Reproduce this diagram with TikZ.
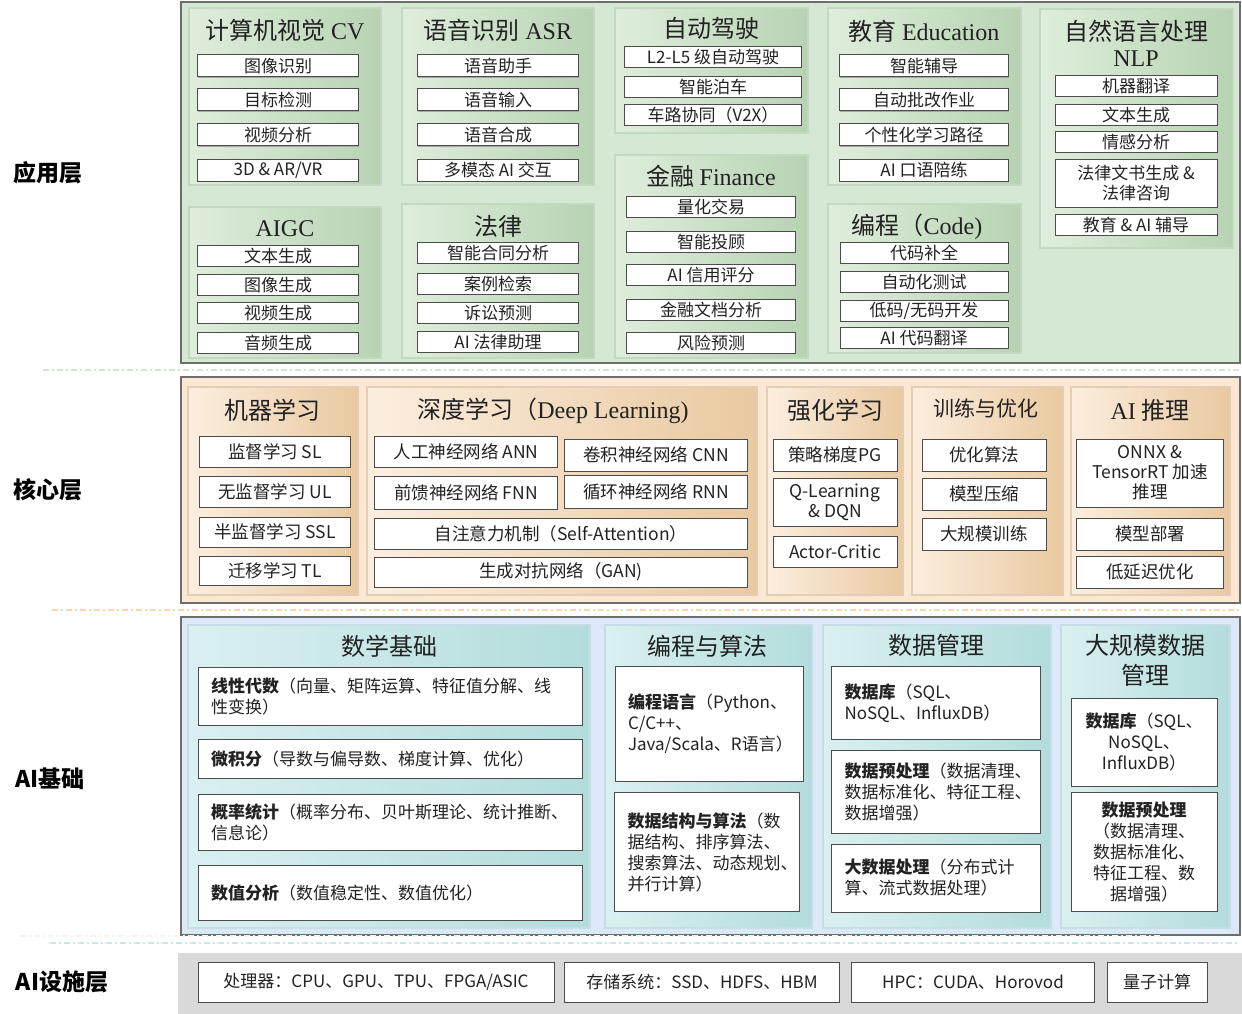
\documentclass[tikz,border=0pt]{standalone}
\usepackage{fontspec}
\setmainfont{Noto Sans CJK SC}
\newfontfamily\ser{Liberation Serif}
\usepackage{xcolor}
\usetikzlibrary{positioning,shadows}

\definecolor{appbg}{HTML}{D5E8D4}
\definecolor{grnL}{HTML}{DFEEDC}
\definecolor{grnR}{HTML}{B7D2B3}
\definecolor{grnln}{HTML}{C3D8C0}
\definecolor{corebg}{HTML}{FCE7D3}
\definecolor{orgL}{HTML}{FCEEDF}
\definecolor{orgR}{HTML}{E9C9A0}
\definecolor{orgln}{HTML}{E3CDB5}
\definecolor{orgsep}{HTML}{F7D6B4}
\definecolor{basebg}{HTML}{DCE9F8}
\definecolor{bluL}{HTML}{DAF0F0}
\definecolor{bluR}{HTML}{B3DCDC}
\definecolor{bluln}{HTML}{C5DEE6}
\definecolor{infbg}{HTML}{D9D9D9}
\definecolor{edge}{HTML}{6E6E6E}
\definecolor{txt}{HTML}{222222}

\tikzset{
  layerbox/.style={draw=edge, line width=1.5pt},
  grnpanel/.style={draw=grnln, line width=1.5pt, left color=grnL, right color=grnR},
  orgpanel/.style={draw=orgln, line width=1.5pt, left color=orgL, right color=orgR},
  blupanel/.style={draw=bluln, line width=1.5pt, left color=bluL, right color=bluR},
  sepline/.style={line width=1.5pt, dash pattern=on 6pt off 3pt on 2pt off 3pt},
  layerlbl/.style={font=\fontsize{23}{26}\selectfont\bfseries, text=black},
  ttl/.style={font=\fontsize{24}{28}\selectfont, text=txt},
  item/.style={draw=black!70, fill=white, line width=1pt, inner sep=0pt, text=txt,
    font=\fontsize{17}{20}\selectfont, align=center,
    drop shadow={shadow xshift=0.8pt, shadow yshift=-0.8pt, fill=black!35, opacity=1}},
  coreitem/.style={item, font=\fontsize{17.5}{20}\selectfont},
  baseitem/.style={item, font=\fontsize{17}{21}\selectfont, inner xsep=13pt, align=left},
  infitem/.style={draw=black!70, fill=white, line width=1pt, inner sep=0pt, text=txt,
    font=\fontsize{17}{20}\selectfont, minimum height=40}
}

\begin{document}
\begin{tikzpicture}[x=1pt, y=-1pt]
\useasboundingbox (0,0) rectangle (1242,1014);

% layer labels
\node[layerlbl] (lapp) at (48,173) {应用层};
\node[layerlbl] (lcore) at (48,490) {核心层};
\node[layerlbl] (lbase) at (50,779) {AI基础};
\node[layerlbl] (linf) at (62,982) {AI设施层};

% separators
\draw[sepline, color=grnln!70] (43,370) to (1240,370);
\draw[sepline, color=orgsep] (52,610) to (1240,610);

% ---------------- application layer
\draw[layerbox, fill=appbg] (181,2) rectangle (1240,363);

\draw[grnpanel] (189,8) rectangle (381,185);
\node[ttl] (cvt) at (285,30) {计算机视觉 {\ser CV}};
\node[item, minimum width=161, minimum height=22] (cv1) at (278,66) {图像识别};
\node[item, minimum width=161, minimum height=22] (cv2) at (278,100) {目标检测};
\node[item, minimum width=161, minimum height=22] (cv3) at (278,135) {视频分析};
\node[item, minimum width=161, minimum height=22] (cv4) at (278,170) {3D \& AR/VR};

\draw[grnpanel] (402,8) rectangle (594,185);
\node[ttl] (asrt) at (498,30) {语音识别 {\ser ASR}};
\node[item, minimum width=161, minimum height=22] (asr1) at (498,66) {语音助手};
\node[item, minimum width=161, minimum height=22] (asr2) at (498,100) {语音输入};
\node[item, minimum width=161, minimum height=22] (asr3) at (498,135) {语音合成};
\node[item, minimum width=161, minimum height=22] (asr4) at (498,170) {多模态 AI 交互};

\draw[grnpanel] (189,207) rectangle (381,358);
\node[ttl] (aigct) at (285,229) {{\ser AIGC}};
\node[item, minimum width=161, minimum height=21] (aigc1) at (278,256) {文本生成};
\node[item, minimum width=161, minimum height=21] (aigc2) at (278,285) {图像生成};
\node[item, minimum width=161, minimum height=21] (aigc3) at (278,313) {视频生成};
\node[item, minimum width=161, minimum height=21] (aigc4) at (278,343) {音频生成};

\draw[grnpanel] (402,204) rectangle (594,358);
\node[ttl] (lawt) at (498,226) {法律};
\node[item, minimum width=161, minimum height=21] (law1) at (498,253) {智能合同分析};
\node[item, minimum width=161, minimum height=21] (law2) at (498,284) {案例检索};
\node[item, minimum width=161, minimum height=21] (law3) at (498,313) {诉讼预测};
\node[item, minimum width=161, minimum height=21] (law4) at (498,342) {AI 法律助理};

\draw[grnpanel] (615,8) rectangle (808,133);
\node[ttl] (drvt) at (711,28) {自动驾驶};
\node[item, minimum width=177, minimum height=21] (drv1) at (713,57) {L2-L5 级自动驾驶};
\node[item, minimum width=177, minimum height=21] (drv2) at (713,87) {智能泊车};
\node[item, minimum width=177, minimum height=21] (drv3) at (713,115) {车路协同（V2X）};

\draw[grnpanel] (615,155) rectangle (808,358);
\node[ttl] (fint) at (711,176) {金融 {\ser Finance}};
\node[item, minimum width=169, minimum height=21] (fin1) at (711,207) {量化交易};
\node[item, minimum width=169, minimum height=21] (fin2) at (711,242) {智能投顾};
\node[item, minimum width=169, minimum height=21] (fin3) at (711,275) {AI 信用评分};
\node[item, minimum width=169, minimum height=21] (fin4) at (711,310) {金融文档分析};
\node[item, minimum width=169, minimum height=21] (fin5) at (711,343) {风险预测};

\draw[grnpanel] (828,8) rectangle (1021,185);
\node[ttl] (edut) at (924,31) {教育 {\ser Education}};
\node[item, minimum width=169, minimum height=22] (edu1) at (924,66) {智能辅导};
\node[item, minimum width=169, minimum height=22] (edu2) at (924,100) {自动批改作业};
\node[item, minimum width=169, minimum height=22] (edu3) at (924,135) {个性化学习路径};
\node[item, minimum width=169, minimum height=22] (edu4) at (924,170) {AI 口语陪练};

\draw[grnpanel] (828,204) rectangle (1021,353);
\node[ttl] (codet) at (917,227) {编程（{\ser Code)}};
\node[item, minimum width=168, minimum height=21] (code1) at (924,253) {代码补全};
\node[item, minimum width=168, minimum height=21] (code2) at (924,282) {自动化测试};
\node[item, minimum width=168, minimum height=21] (code3) at (924,311) {低码/无码开发};
\node[item, minimum width=168, minimum height=21] (code4) at (924,338) {AI 代码翻译};

\draw[grnpanel] (1040,9) rectangle (1233,248);
\node[ttl] (nlpt) at (1136,31) {自然语言处理};
\node[ttl] (nlpt2) at (1136,59) {{\ser NLP}};
\node[item, minimum width=162, minimum height=21] (nlp1) at (1136,86) {机器翻译};
\node[item, minimum width=162, minimum height=21] (nlp2) at (1136,115) {文本生成};
\node[item, minimum width=162, minimum height=21] (nlp3) at (1136,142) {情感分析};
\node[item, minimum width=162, minimum height=48] (nlp4) at (1136,183) {法律文书生成 \&\\法律咨询};
\node[item, minimum width=162, minimum height=21] (nlp5) at (1136,225) {教育 \& AI 辅导};

% ---------------- core layer
\draw[layerbox, fill=corebg] (181,377) rectangle (1240,603);

\draw[orgpanel] (188,387) rectangle (358,595);
\node[ttl] (mlt) at (272,410) {机器学习};
\node[coreitem, minimum width=151, minimum height=31] (ml1) at (275,452) {监督学习 SL};
\node[coreitem, minimum width=151, minimum height=31] (ml2) at (275,492) {无监督学习 UL};
\node[coreitem, minimum width=151, minimum height=30] (ml3) at (275,532) {半监督学习 SSL};
\node[coreitem, minimum width=151, minimum height=29] (ml4) at (275,571) {迁移学习 TL};

\draw[orgpanel] (367,387) rectangle (757,595);
\node[ttl] (dlt) at (553,411) {深度学习（{\ser Deep Learning)}};
\node[coreitem, minimum width=183, minimum height=31] (dl1) at (466,452) {人工神经网络 ANN};
\node[coreitem, minimum width=183, minimum height=32] (dl2) at (656,455) {卷积神经网络 CNN};
\node[coreitem, minimum width=183, minimum height=33] (dl3) at (466,493) {前馈神经网络 FNN};
\node[coreitem, minimum width=183, minimum height=33] (dl4) at (656,492) {循环神经网络 RNN};
\node[coreitem, minimum width=373, minimum height=31] (dl5) at (561,534) {自注意力机制（Self-Attention）};
\node[coreitem, minimum width=373, minimum height=30] (dl6) at (561,572) {生成对抗网络（GAN)};

\draw[orgpanel] (767,387) rectangle (903,595);
\node[ttl] (rlt) at (835,410) {强化学习};
\node[coreitem, minimum width=124, minimum height=32] (rl1) at (835,455) {策略梯度PG};
\node[coreitem, minimum width=124, minimum height=48] (rl2) at (835,502) {Q-Learning\\\& DQN};
\node[coreitem, minimum width=124, minimum height=31] (rl3) at (835,552) {Actor-Critic};

\draw[orgpanel] (912,387) rectangle (1063,595);
\node[ttl, font=\fontsize{21}{24}\selectfont] (trt) at (986,408) {训练与优化};
\node[coreitem, minimum width=124, minimum height=32] (tr1) at (984,455) {优化算法};
\node[coreitem, minimum width=124, minimum height=32] (tr2) at (984,494) {模型压缩};
\node[coreitem, minimum width=124, minimum height=32] (tr3) at (984,534) {大规模训练};

\draw[orgpanel] (1071,387) rectangle (1230,595);
\node[ttl] (inft) at (1150,410) {{\ser AI} 推理};
\node[coreitem, minimum width=147, minimum height=68] (inf1) at (1150,473) {ONNX \&\\TensorRT 加速\\推理};
\node[coreitem, minimum width=147, minimum height=32] (inf2) at (1150,534) {模型部署};
\node[coreitem, minimum width=147, minimum height=32] (inf3) at (1150,572) {低延迟优化};

% ---------------- foundation layer
\draw[layerbox, fill=basebg] (181,617) rectangle (1240,935);

\draw[blupanel] (188,625) rectangle (590,928);
\node[ttl] (matht) at (389,646) {数学基础};
\node[baseitem, minimum width=384, text width=358, minimum height=58] (math1) at (390,696) {\textbf{线性代数}（向量、矩阵运算、特征值分解、线\\性变换）};
\node[baseitem, minimum width=384, text width=358, minimum height=39] (math2) at (390,759) {\textbf{微积分}（导数与偏导数、梯度计算、优化）};
\node[baseitem, minimum width=384, text width=358, minimum height=56] (math3) at (390,822) {\textbf{概率统计}（概率分布、贝叶斯理论、统计推断、\\信息论）};
\node[baseitem, minimum width=384, text width=358, minimum height=55] (math4) at (390,893) {\textbf{数值分析}（数值稳定性、数值优化）};

\draw[blupanel] (605,625) rectangle (812,928);
\node[ttl] (algt) at (707,646) {编程与算法};
\node[baseitem, minimum width=188, text width=162, minimum height=115] (alg1) at (709,724) {\textbf{编程语言}（Python、\\C/C++、\\Java/Scala、R语言）};
\node[baseitem, minimum width=185, text width=159, minimum height=119] (alg2) at (707,852) {\textbf{数据结构与算法}（数\\据结构、排序算法、\\搜索算法、动态规划、\\并行计算）};

\draw[blupanel] (823,625) rectangle (1051,928);
\node[ttl] (datat) at (936,645) {数据管理};
\node[baseitem, minimum width=209, text width=183, minimum height=73] (data1) at (936,703) {\textbf{数据库}（SQL、\\NoSQL、InfluxDB）};
\node[baseitem, minimum width=209, text width=183, minimum height=83] (data2) at (936,792) {\textbf{数据预处理}（数据清理、\\数据标准化、特征工程、\\数据增强）};
\node[baseitem, minimum width=209, text width=183, minimum height=68] (data3) at (936,878) {\textbf{大数据处理}（分布式计\\算、流式数据处理）};

\draw[blupanel] (1061,625) rectangle (1230,928);
\node[ttl] (bigt) at (1145,645) {大规模数据};
\node[ttl] (bigt2) at (1145,675) {管理};
\node[baseitem, align=center, minimum width=146, text width=130, inner xsep=8pt, minimum height=88] (big1) at (1144,742) {\textbf{数据库}（SQL、\\NoSQL、\\InfluxDB）};
\node[baseitem, align=center, minimum width=146, text width=130, inner xsep=8pt, minimum height=119] (big2) at (1144,852) {\textbf{数据预处理}\\（数据清理、\\数据标准化、\\特征工程、数\\据增强）};

\draw[sepline, color=orgL!80!brown!30] (20,936) to (1160,936);
\draw[sepline, color=bluR!70] (50,943) to (1240,943);

% ---------------- infrastructure layer
\fill[infbg] (178,953) rectangle (1242,1014);
\node[infitem, minimum width=356] (hw1) at (376,982) {处理器：CPU、GPU、TPU、FPGA/ASIC};
\node[infitem, minimum width=275] (hw2) at (702,982) {存储系统：SSD、HDFS、HBM};
\node[infitem, minimum width=243] (hw3) at (973,982) {HPC：CUDA、Horovod};
\node[infitem, minimum width=100] (hw4) at (1157,982) {量子计算};

\end{tikzpicture}
\end{document}
